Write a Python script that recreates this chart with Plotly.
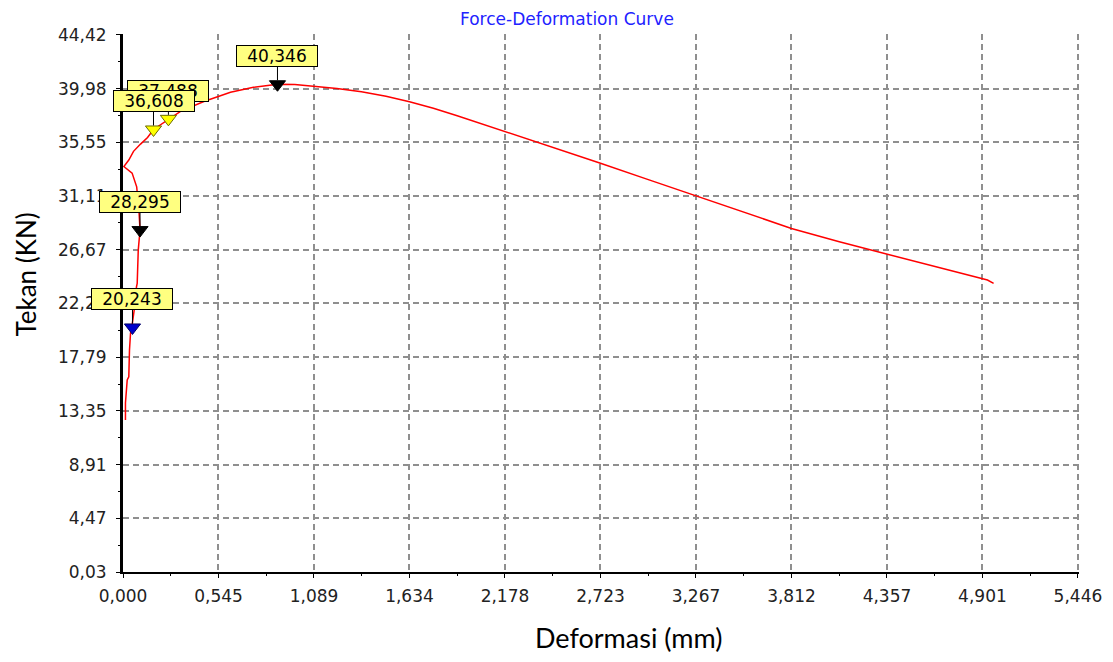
import plotly.graph_objects as go

# ---------------- data ----------------
# deformation (mm) and force (kN)
deform = [0.014, 0.013, 0.014, 0.024, 0.033, 0.037, 0.043, 0.050, 0.064, 0.077, 0.081,
          0.087, 0.097, 0.091, 0.084, 0.078, 0.052, 0.033, 0.005, 0.033, 0.060,
          0.100, 0.140, 0.174, 0.220, 0.259, 0.328, 0.461, 0.613, 0.744, 0.881,
          0.980, 1.089, 1.220, 1.360, 1.500, 1.634, 1.770, 1.906, 2.042, 2.178,
          2.450, 2.723, 3.000, 3.267, 3.540, 3.812, 4.085, 4.357, 4.630, 4.901,
          4.930, 4.965]
force = [12.59, 13.17, 14.00, 15.90, 16.17, 18.38, 19.78, 20.24, 21.70, 23.61, 23.89,
         26.64, 28.30, 29.90, 30.90, 31.87, 33.00, 33.25, 33.55, 34.08, 34.80,
         35.40, 35.95, 36.61, 37.05, 37.49, 38.10, 38.92, 39.68, 40.10, 40.346,
         40.33, 40.20, 40.00, 39.72, 39.35, 38.90, 38.36, 37.75, 37.10, 36.42,
         35.12, 33.81, 32.44, 31.11, 29.76, 28.43, 27.32, 26.31, 25.29, 24.30,
         24.16, 23.89]

# labelled points (drawn in this order; later ones lie on top)
mark_x = [0.259, 0.174, 0.881, 0.097, 0.054]
mark_y = [37.488, 36.608, 40.346, 28.295, 20.243]
mark_fill = ["#ffff00", "#ffff00", "#000000", "#000000", "#0000cc"]
mark_edge = ["#6b6b00", "#6b6b00", "#000000", "#000000", "#000066"]

x_ticks = [0.0, 0.5446, 1.0892, 1.6338, 2.1784, 2.723, 3.2676, 3.8122, 4.3568, 4.9014, 5.446]
x_labels = ["0,000", "0,545", "1,089", "1,634", "2,178", "2,723", "3,267", "3,812", "4,357", "4,901", "5,446"]
y_ticks = [0.03, 4.469, 8.908, 13.347, 17.786, 22.225, 26.664, 31.103, 35.542, 39.981, 44.42]
y_labels = ["0,03", "4,47", "8,91", "13,35", "17,79", "22,23", "26,67", "31,11", "35,55", "39,98", "44,42"]

title_text = "Force-Deformation Curve"
x_title = "Deformasi (mm)"
y_title = "Tekan (KN)"

# ---------------- figure ----------------
fig = go.Figure()
fig.add_trace(go.Scatter(x=deform, y=force, mode="lines",
                         line=dict(color="#ff0000", width=1.5),
                         showlegend=False, hoverinfo="skip"))
fig.add_trace(go.Scatter(x=mark_x, y=mark_y, mode="markers",
                         marker=dict(symbol="triangle-down", size=14, color=mark_fill,
                                     line=dict(color=mark_edge, width=1)),
                         showlegend=False))

annotations = []
for xv, yv in zip(mark_x, mark_y):
    annotations.append(dict(
        x=xv, y=yv, xref="x", yref="y",
        text=f"{yv:.3f}".replace(".", ","),
        showarrow=True, arrowhead=0, arrowwidth=1, arrowcolor="#000000",
        ax=0, ay=-28, standoff=4,
        bgcolor="#ffff80", bordercolor="#000000", borderwidth=1, borderpad=1,
        width=78, height=18,
        font=dict(family="DejaVu Sans", size=17, color="#000000"),
    ))

annotations.append(dict(text=title_text, x=0.4644, y=1.0288, xref="paper", yref="paper",
                        xanchor="center", yanchor="middle", showarrow=False,
                        font=dict(family="DejaVu Sans", size=17, color="#2222ff")))
annotations.append(dict(text=x_title, x=0.529, y=-0.121, xref="paper", yref="paper",
                        xanchor="center", yanchor="middle", showarrow=False,
                        font=dict(family="Lato", size=27, color="#000000")))
annotations.append(dict(text=y_title, x=-0.1020, y=0.554, xref="paper", yref="paper",
                        xanchor="center", yanchor="middle", showarrow=False, textangle=-90,
                        font=dict(family="Lato", size=26, color="#000000")))

grid = dict(showgrid=True, gridcolor="#8f8f8f", gridwidth=1.5, griddash="6px,4px",
            zeroline=False, showline=True, linecolor="#000000", automargin=False,
            ticks="outside", ticklen=4, tickcolor="#000000", tickwidth=1,
            tickfont=dict(family="DejaVu Sans", size=17, color="#222222"))

# the page body adds an 8px margin, so the figure is sized/offset to compensate
fig.update_layout(
    width=1097, height=646,
    margin=dict(l=115, r=26, t=26, b=82, autoexpand=False),
    paper_bgcolor="#ffffff", plot_bgcolor="#ffffff",
    xaxis=dict(range=[0, 5.452], tickmode="array", tickvals=x_ticks, ticktext=x_labels,
               linewidth=2, ticklabelstandoff=4,
               minor=dict(ticks="outside", ticklen=2, tickcolor="#000000", dtick=0.2723, tick0=0),
               **grid),
    yaxis=dict(range=[0.03, 44.5], tickmode="array", tickvals=y_ticks, ticktext=y_labels,
               linewidth=3, ticklabelstandoff=6,
               minor=dict(ticks="outside", ticklen=2, tickcolor="#000000", dtick=2.2195, tick0=0.03),
               **grid),
    annotations=annotations,
)

fig.write_html("out.html")
